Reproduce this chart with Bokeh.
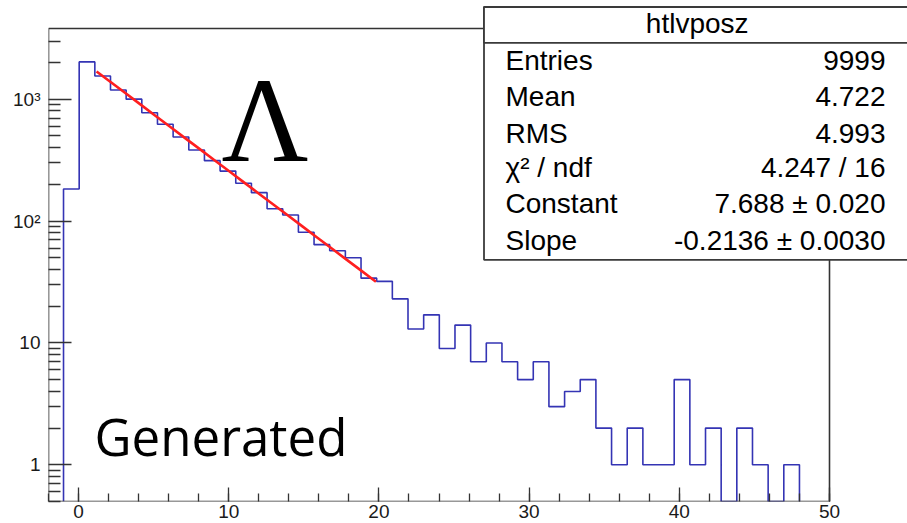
import numpy as np
from bokeh.plotting import figure
from bokeh.models import FixedTicker, BoxAnnotation, Label
from bokeh.embed import file_html
from bokeh.resources import INLINE

# ---- data ----
counts = [183, 2022, 1549, 1189, 1000, 774, 622, 489, 383, 313, 257, 204, 171,
          126, 112, 81, 64, 57, 50, 34, 32, 23, 13, 17, 9, 14, 7, 10, 7, 5, 7,
          3, 4, 5, 2, 1, 2, 1, 1, 5, 1, 2, 0, 2, 1, 0, 1]
bin_low = -1.0
bin_high = 48.0
fit_constant = 7.688
fit_slope = -0.2136
fit_low = 1.2
fit_high = 19.8
x_ticks = [0, 10, 20, 30, 40, 50]
y_ticks = [1, 10, 100, 1000]
y_tick_labels = ["1", "10", "10²", "10³"]
stats_title = "htlvposz"
stats_names = ["Entries", "Mean", "RMS", "χ² / ndf", "Constant", "Slope"]
stats_values = ["9999", "4.722", "4.993", "4.247 / 16", "7.688 ± 0.020", "-0.2136 ± 0.0030"]
big_symbol = "Λ"
caption = "Generated"

# axis frame (as in the ROOT canvas)
X_MIN, X_MAX = -2, 50
Y_MIN, Y_MAX = 0.5, 3800

# layout: the Bokeh frame extends to the right/top canvas edge so the stats box can overhang
W, H = 907, 523
LEFT, BOTTOM_AX = 48, 22
ROOT_FRAME_W, ROOT_FRAME_H = 781, 473
ROOT_TOP = 28
frame_w = W - LEFT
frame_h = ROOT_TOP + ROOT_FRAME_H
px_per_x = ROOT_FRAME_W / (X_MAX - X_MIN)
px_per_dec = ROOT_FRAME_H / np.log10(Y_MAX / Y_MIN)
x_end = X_MIN + frame_w / px_per_x
y_end = Y_MAX * 10 ** (ROOT_TOP / px_per_dec)

p = figure(frame_width=frame_w, frame_height=frame_h,
           x_range=(X_MIN, x_end), y_range=(Y_MIN, y_end), y_axis_type="log",
           output_backend="svg", toolbar_location=None,
           min_border_left=LEFT, min_border_right=0, min_border_top=0,
           min_border_bottom=BOTTOM_AX)
p.background_fill_color = "white"
p.border_fill_color = "white"
p.outline_line_color = None
p.xgrid.visible = False
p.ygrid.visible = False

# ---- histogram as a step outline ----
edges = np.linspace(bin_low, bin_high, len(counts) + 1)
floor = Y_MIN
hx = [edges[0]]
hy = [floor]
for i, c in enumerate(counts):
    v = c if c > 0 else floor
    hx += [edges[i], edges[i + 1]]
    hy += [v, v]
hx.append(edges[-1])
hy.append(floor)
p.line(hx, hy, line_color="#3434b4", line_width=1.6)

# ---- exponential fit ----
fx = np.linspace(fit_low, fit_high, 20)
fy = np.exp(fit_constant + fit_slope * fx)
p.line(fx, fy, line_color="#ff1f1f", line_width=2.6)

# ---- axes ----
axis_color = "#333333"
for ax in (p.xaxis[0], p.yaxis[0]):
    ax.axis_line_color = None
    ax.major_tick_line_color = axis_color
    ax.minor_tick_line_color = axis_color
    ax.major_tick_line_width = 1.3
    ax.minor_tick_line_width = 1.3
    ax.major_tick_out = 0
    ax.minor_tick_out = 0
    ax.major_label_text_font = "Liberation Sans"
    ax.major_label_text_font_size = "19px"
    ax.major_label_text_color = "#1a1a1a"

p.xaxis.ticker = FixedTicker(ticks=x_ticks, minor_ticks=list(range(-2, 51, 2)))
p.xaxis.major_tick_in = 14
p.xaxis.minor_tick_in = 8
p.xaxis.major_label_standoff = 3

minor_y = [m * 10.0 ** k for k in range(-1, 4) for m in range(2, 10)]
minor_y = [v for v in minor_y if Y_MIN <= v <= Y_MAX]
p.yaxis.ticker = FixedTicker(ticks=y_ticks, minor_ticks=minor_y)
p.yaxis.major_tick_in = 23
p.yaxis.minor_tick_in = 12
p.yaxis.major_label_standoff = 8
p.yaxis.major_label_overrides = {t: lab for t, lab in zip(y_ticks, y_tick_labels)}

# ---- ROOT frame ----
frame = BoxAnnotation(left=X_MIN, right=X_MAX, bottom=Y_MIN, top=Y_MAX,
                      fill_alpha=0, line_color=axis_color, line_alpha=1.0, line_width=1.6)
p.add_layout(frame)

# ---- stats box (screen units, relative to the frame's bottom-left) ----
box_kw = dict(left_units="screen", right_units="screen", top_units="screen",
              bottom_units="screen", fill_color="white", fill_alpha=1.0,
              line_color="#3a3a3a", line_alpha=1.0, line_width=1.8)
p.add_layout(BoxAnnotation(left=435.5, right=880, top=494.5, bottom=241.7, **box_kw))
p.add_layout(BoxAnnotation(left=435.5, right=880, top=494.5, bottom=458.7, **box_kw))

font = "Liberation Sans"
fs = "28px"
p.add_layout(Label(x=648.7, y=478, x_units="screen", y_units="screen", text=stats_title,
                   text_align="center", text_baseline="alphabetic",
                   text_font=font, text_font_size=fs, text_color="black"))
row_y = [441, 405, 368, 334, 298, 261]
for name, val, yy in zip(stats_names, stats_values, row_y):
    p.add_layout(Label(x=457, y=yy, x_units="screen", y_units="screen", text=name,
                       text_align="left", text_baseline="alphabetic",
                       text_font=font, text_font_size=fs, text_color="black"))
    p.add_layout(Label(x=837, y=yy, x_units="screen", y_units="screen", text=val,
                       text_align="right", text_baseline="alphabetic",
                       text_font=font, text_font_size=fs, text_color="black"))

# ---- annotations ----
p.add_layout(Label(x=216.5, y=381, x_units="screen", y_units="screen", text=big_symbol,
                   text_align="center", text_baseline="alphabetic",
                   text_font="Liberation Serif", text_font_size="120px", text_color="black"))
p.add_layout(Label(x=46, y=65.5, x_units="screen", y_units="screen", text=caption,
                   text_align="left", text_baseline="alphabetic",
                   text_font="Open Sans", text_font_size="51px", text_color="black"))

open("out.html", "w").write(file_html(p, INLINE))
